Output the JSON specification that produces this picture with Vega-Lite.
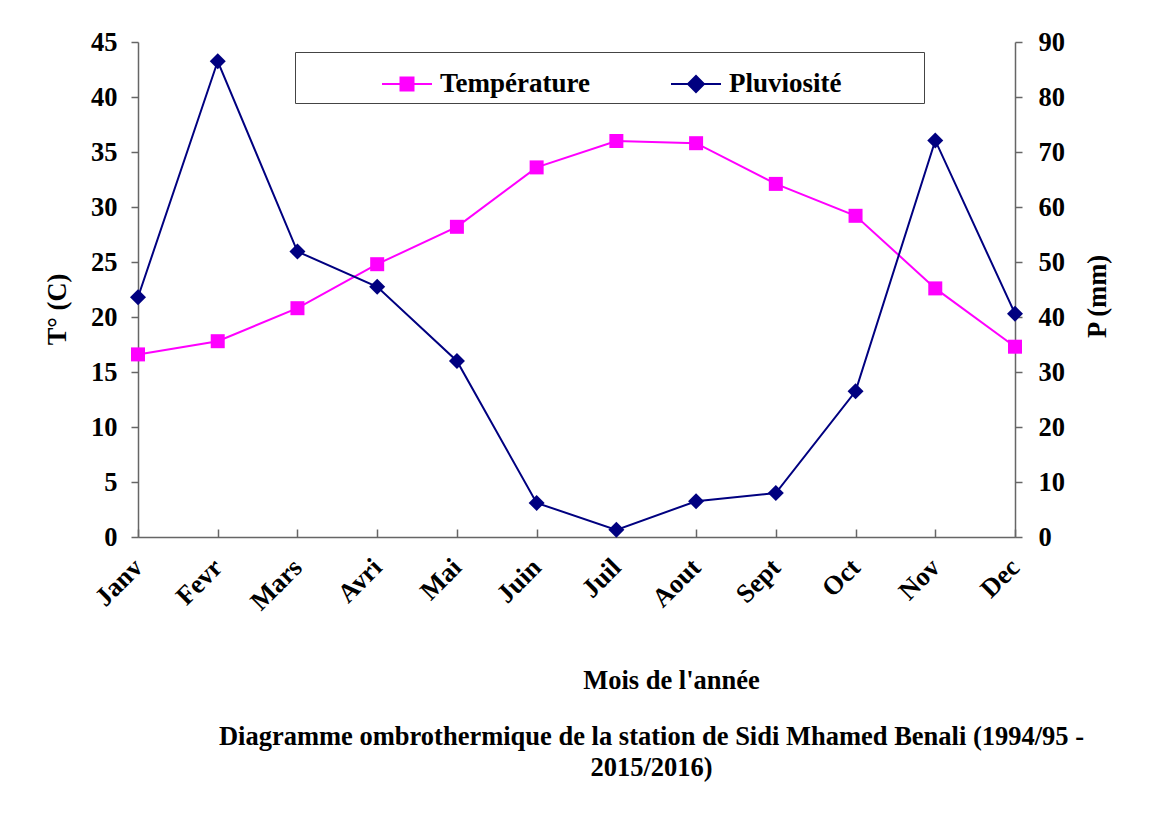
{
  "$schema": "https://vega.github.io/schema/vega-lite/v6.json",
  "width": 877,
  "height": 495,
  "autosize": "none",
  "padding": {"left": 138, "top": 42, "right": 156, "bottom": 280},
  "background": "white",
  "title": {
    "text": ["Diagramme ombrothermique de la station de Sidi Mhamed Benali (1994/95 -", "2015/2016)"],
    "orient": "bottom",
    "anchor": "middle",
    "dx": 75,
    "offset": 30,
    "font": "Liberation Serif",
    "fontSize": 26.5,
    "fontWeight": "bold",
    "color": "black",
    "lineHeight": 31
  },
  "config": {
    "view": {"stroke": null},
    "axis": {
      "grid": false,
      "domainColor": "#666666",
      "tickColor": "#666666",
      "domainWidth": 1.5,
      "tickWidth": 1.5,
      "labelFont": "Liberation Serif",
      "labelFontSize": 26.5,
      "labelFontWeight": "bold",
      "labelColor": "black",
      "titleFont": "Liberation Serif",
      "titleFontSize": 26.5,
      "titleFontWeight": "bold",
      "titleColor": "black"
    },
    "legend": {
      "orient": "none",
      "direction": "horizontal",
      "legendX": 157,
      "legendY": 10,
      "padding": 6,
      "columnPadding": 77,
      "strokeColor": "#444444",
      "fillColor": "white",
      "labelFont": "Liberation Serif",
      "labelFontSize": 27,
      "labelFontWeight": "bold",
      "labelColor": "black",
      "labelOffset": 7,
      "labelLimit": 500,
      "symbolSize": 2500,
      "symbolStrokeWidth": 2,
      "symbolOpacity": 1,
      "titleOrient": "left",
      "titlePadding": 80,
      "titleFontSize": 10
    }
  },
  "data": {
    "values": [
      {"month": "Janv", "temp": 16.6, "precip": 43.6},
      {"month": "Fevr", "temp": 17.8, "precip": 86.5},
      {"month": "Mars", "temp": 20.8, "precip": 51.9},
      {"month": "Avri", "temp": 24.8, "precip": 45.5},
      {"month": "Mai", "temp": 28.2, "precip": 32.0},
      {"month": "Juin", "temp": 33.6, "precip": 6.2},
      {"month": "Juil", "temp": 36.0, "precip": 1.3},
      {"month": "Aout", "temp": 35.8, "precip": 6.5},
      {"month": "Sept", "temp": 32.1, "precip": 8.0},
      {"month": "Oct", "temp": 29.2, "precip": 26.5},
      {"month": "Nov", "temp": 22.6, "precip": 72.1},
      {"month": "Dec", "temp": 17.3, "precip": 40.6}
    ]
  },
  "encoding": {
    "x": {
      "field": "month",
      "type": "ordinal",
      "sort": ["Janv", "Fevr", "Mars", "Avri", "Mai", "Juin", "Juil", "Aout", "Sept", "Oct", "Nov", "Dec"],
      "scale": {"type": "point", "padding": 0},
      "axis": {
        "title": "Mois de l'année",
        "labelAngle": -45,
        "labelAlign": "right",
        "labelBaseline": "middle",
        "tickSize": -8,
        "labelPadding": 34,
        "titleX": 533,
        "titleY": 143,
        "titleAlign": "center",
        "titleBaseline": "middle"
      }
    }
  },
  "layer": [
    {
      "encoding": {
        "y": {
          "field": "temp",
          "type": "quantitative",
          "scale": {"domain": [0, 45], "nice": false},
          "axis": {
            "title": "T° (C)",
            "orient": "left",
            "values": [0, 5, 10, 15, 20, 25, 30, 35, 40, 45],
            "tickSize": 7,
            "labelPadding": 14,
            "titleAngle": -90,
            "titleX": -81,
            "titleY": 267,
            "titleAlign": "center",
            "titleBaseline": "middle"
          }
        },
        "color": {
          "datum": "Température",
          "scale": {"domain": ["Température", "Pluviosité"], "range": ["#FF00FF", "#000080"]},
          "legend": {"title": " "}
        }
      },
      "layer": [
        {"mark": {"type": "line", "strokeWidth": 2}},
        {"mark": {"type": "point", "shape": "square", "filled": true, "size": 196, "opacity": 1}},
        {
          "mark": {"type": "point", "filled": true, "size": 2500, "opacity": 0},
          "encoding": {
            "shape": {
              "datum": "Température",
              "type": "nominal",
              "scale": {
                "domain": ["Température", "Pluviosité"],
                "range": ["M-1,0H1M-0.26,-0.26H0.26V0.26H-0.26Z", "M-1,0H1M8.7,0M-0.32,0L0,-0.32L0.32,0L0,0.32Z"]
              }
            }
          }
        }
      ]
    },
    {
      "encoding": {
        "y": {
          "field": "precip",
          "type": "quantitative",
          "scale": {"domain": [0, 90], "nice": false},
          "axis": {
            "title": "P (mm)",
            "orient": "right",
            "values": [0, 10, 20, 30, 40, 50, 60, 70, 80, 90],
            "tickSize": 7,
            "labelPadding": 16,
            "titleAngle": -90,
            "titleX": 82,
            "titleY": 254,
            "titleAlign": "center",
            "titleBaseline": "middle"
          }
        },
        "color": {"datum": "Pluviosité"}
      },
      "layer": [
        {"mark": {"type": "line", "strokeWidth": 2}},
        {"mark": {"type": "point", "shape": "diamond", "filled": true, "size": 256, "opacity": 1}},
        {
          "mark": {"type": "point", "filled": true, "size": 2500, "opacity": 0},
          "encoding": {"shape": {"datum": "Pluviosité", "type": "nominal"}}
        }
      ]
    }
  ],
  "resolve": {"scale": {"y": "independent"}}
}
